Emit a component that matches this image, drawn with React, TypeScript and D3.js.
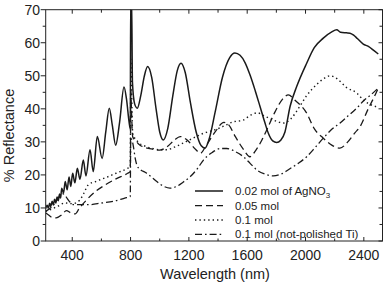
import React from "react";
import * as d3 from "d3";

// ---- data (wavelength nm, % reflectance) ----
const solid002: [number, number][] = [
  [218, 9.8], [228, 10.8], [236, 9.9], [245, 11.4], [253, 10.4], [262, 12], [270, 10.9],
  [279, 12.6], [287, 11.5], [296, 13.3], [304, 12.2], [313, 14.2], [320, 13], [328, 16],
  [340, 14.5], [352, 18], [365, 15.5], [378, 19.4], [390, 16.5], [403, 20.5], [418, 17.6],
  [435, 22], [453, 18.7], [476, 24.5], [494, 19.7], [522, 27.6], [544, 21], [572, 31.6],
  [605, 25], [630, 33], [654, 40.2], [675, 35], [698, 29], [725, 36], [755, 46.6],
  [772, 43], [790, 36], [798, 34], [801, 74], [807, 74], [813, 48], [828, 41.5],
  [846, 40.2], [870, 44], [895, 50], [917, 52.8], [945, 49.5], [975, 40], [1000, 33],
  [1025, 30.6], [1055, 34], [1090, 44], [1120, 51.5], [1146, 53.8], [1175, 51],
  [1210, 42], [1250, 33], [1285, 28.8], [1311, 28.1], [1340, 31], [1380, 39],
  [1430, 49.5], [1480, 55.5], [1516, 56.9], [1551, 56.2], [1585, 54], [1619, 50.3],
  [1655, 45.5], [1688, 40.7], [1720, 36], [1745, 32.6], [1775, 30.3], [1802, 29.8],
  [1830, 30.5], [1859, 33], [1894, 40.7], [1940, 46.8], [2008, 53.8], [2060, 58.5],
  [2122, 61.4], [2180, 63.3], [2214, 63.9], [2240, 63.2], [2280, 63], [2305, 62.9],
  [2330, 62.3], [2355, 61.3], [2396, 59.6], [2431, 58.9], [2470, 57.6], [2499, 56.6],
];

const dashed005: [number, number][] = [
  [218, 8.5], [240, 7.8], [260, 7.2], [290, 7], [330, 8], [360, 9.2], [390, 8.5],
  [420, 8.2], [450, 10], [500, 12.5], [560, 15], [620, 16.8], [700, 18.8], [780, 20.5],
  [798, 21], [802, 46], [806, 40], [815, 31.5], [830, 30.6], [865, 29], [900, 28.3],
  [950, 27.8], [1000, 27.5], [1050, 28.5], [1100, 30.5], [1140, 31.6], [1190, 30.5],
  [1240, 28], [1280, 26.6], [1320, 29], [1380, 33], [1440, 35.9], [1470, 35.3],
  [1520, 31.5], [1573, 27.8], [1619, 25.5], [1660, 27.5], [1700, 30.5], [1734, 33.6],
  [1790, 39], [1840, 42.8], [1882, 44.2], [1930, 42.5], [2008, 38.7], [2060, 34],
  [2122, 31.1], [2180, 29], [2236, 28.1], [2290, 30], [2340, 32.8], [2374, 34.6],
  [2430, 40], [2470, 43.5], [2499, 46.3],
];

const dotted010: [number, number][] = [
  [218, 9], [250, 9.5], [300, 10.5], [350, 11.5], [400, 11.3], [450, 12.3], [480, 14.5],
  [510, 17], [560, 18], [620, 19], [700, 20.5], [780, 22], [798, 22.5], [802, 55],
  [806, 48], [815, 32.5], [850, 30], [900, 28.7], [950, 28], [1000, 27.6], [1050, 27.6],
  [1100, 28.4], [1150, 29.4], [1200, 30.5], [1250, 31.6], [1300, 32.6], [1346, 33.2],
  [1400, 34], [1450, 35], [1500, 36], [1573, 36.6], [1620, 38], [1670, 38.8],
  [1720, 37.8], [1780, 36.6], [1850, 35.7], [1900, 37], [1950, 40], [2008, 44],
  [2080, 47.5], [2130, 49.3], [2168, 50], [2220, 49], [2280, 46.5], [2351, 44.8],
  [2400, 42.5], [2460, 41], [2499, 40.5],
];

const dashdot010np: [number, number][] = [
  [218, 9], [240, 9.6], [260, 10.3], [290, 12], [315, 13.6], [335, 14.3], [355, 13.5],
  [380, 12], [410, 11], [460, 11], [520, 11], [600, 11.5], [680, 12], [760, 13],
  [798, 13.5], [801, 31], [810, 30.5], [820, 28.5], [832, 25], [845, 22.8], [870, 21.5],
  [900, 20.8], [940, 19.5], [980, 18], [1030, 16.5], [1070, 16], [1115, 16.5],
  [1160, 17.8], [1210, 19.5], [1260, 22], [1300, 24.5], [1360, 26.8], [1420, 28],
  [1460, 28], [1520, 27], [1574, 25.5], [1620, 23.5], [1666, 21.5], [1720, 20.3],
  [1779, 19.7], [1830, 20.2], [1890, 21.8], [1950, 23.5], [2008, 25.5], [2070, 28.5],
  [2130, 31.5], [2180, 33.8], [2237, 35.7], [2290, 37.8], [2351, 40.2], [2400, 42.5],
  [2450, 44.3], [2499, 46.3],
];

const xMajorTicks = [400, 800, 1200, 1600, 2000, 2400];
const xMinorTicks = [600, 1000, 1400, 1800, 2200];
const yMajorTicks = [0, 10, 20, 30, 40, 50, 60, 70];
const yMinorTicks = [5, 15, 25, 35, 45, 55, 65];

const legendLabels = ["0.02 mol of AgNO", "0.05 mol", "0.1 mol", "0.1 mol (not-polished Ti)"];

const W = 391;
const H = 287;
const L = 45.7, R = 382.5, T = 9.7, B = 241;

const FONT = "'Liberation Sans', Arial, sans-serif";
const INK = "#1a1a1a";

export default function App() {
  const x = d3.scaleLinear().domain([218, 2528]).range([L, R]);
  const y = d3.scaleLinear().domain([0, 70]).range([B, T]);
  const line = d3
    .line<[number, number]>()
    .x((d) => x(d[0]))
    .y((d) => y(d[1]))
    .curve(d3.curveMonotoneX);

  const series = [
    { data: solid002, dash: "", w: 1.5 },
    { data: dashed005, dash: "7,4", w: 1.3 },
    { data: dotted010, dash: "1.4,3", w: 1.4 },
    { data: dashdot010np, dash: "7,3,1.6,3", w: 1.3 },
  ];

  const legY = [191, 205.7, 220, 234.3];

  return (
    <svg
      width={W}
      height={H}
      style={{ position: "absolute", left: 0, top: 0, background: "#fff" }}
      fontFamily={FONT}
    >
      <defs>
        <clipPath id="plot">
          <rect x={L} y={T} width={R - L} height={B - T} />
        </clipPath>
      </defs>
      <rect x={0} y={0} width={W} height={H} fill="#fff" />

      <g clipPath="url(#plot)">
        {series.map((s, i) => (
          <path
            key={i}
            d={line(s.data) || ""}
            fill="none"
            stroke={INK}
            strokeWidth={s.w}
            strokeDasharray={s.dash || undefined}
            strokeLinejoin="round"
          />
        ))}
      </g>

      {/* frame */}
      <rect x={L} y={T} width={R - L} height={B - T} fill="none" stroke="#222" strokeWidth={1} />

      {/* x ticks bottom (inward) and top (inward) */}
      {xMajorTicks.map((t) => (
        <g key={"xM" + t}>
          <line x1={x(t)} x2={x(t)} y1={B} y2={B - 4} stroke="#222" />
          <line x1={x(t)} x2={x(t)} y1={T} y2={T + 4} stroke="#222" />
          <text x={x(t)} y={260} textAnchor="middle" fontSize={14} fill="#222">
            {t}
          </text>
        </g>
      ))}
      {xMinorTicks.map((t) => (
        <g key={"xm" + t}>
          <line x1={x(t)} x2={x(t)} y1={B} y2={B - 2.5} stroke="#222" />
          <line x1={x(t)} x2={x(t)} y1={T} y2={T + 3} stroke="#222" />
        </g>
      ))}

      {/* y ticks left (outward) and right (inward) */}
      {yMajorTicks.map((t) => (
        <g key={"yM" + t}>
          <line x1={L} x2={L - 5} y1={y(t)} y2={y(t)} stroke="#222" />
          <line x1={R} x2={R - 4} y1={y(t)} y2={y(t)} stroke="#222" />
          <text x={40} y={y(t)} dy="0.36em" textAnchor="end" fontSize={14} fill="#222">
            {t}
          </text>
        </g>
      ))}
      {yMinorTicks.map((t) => (
        <g key={"ym" + t}>
          <line x1={L} x2={L - 3} y1={y(t)} y2={y(t)} stroke="#222" />
          <line x1={R} x2={R - 3} y1={y(t)} y2={y(t)} stroke="#222" />
        </g>
      ))}

      {/* axis titles */}
      <text x={215} y={278.5} textAnchor="middle" fontSize={14.5} fill="#222">
        Wavelength (nm)
      </text>
      <text
        transform={`translate(13.5, 135.5) rotate(-90)`}
        textAnchor="middle"
        fontSize={14.5}
        fill="#222"
      >
        % Reflectance
      </text>

      {/* legend */}
      {series.map((s, i) => (
        <g key={"leg" + i}>
          <line
            x1={195}
            x2={223}
            y1={legY[i]}
            y2={legY[i]}
            stroke={INK}
            strokeWidth={s.w}
            strokeDasharray={s.dash || undefined}
          />
          <text x={235} y={legY[i]} dy="0.36em" fontSize={11.5} fill="#222">
            {legendLabels[i]}
            {i === 0 ? (
              <tspan fontSize={8} dy="3">
                3
              </tspan>
            ) : null}
          </text>
        </g>
      ))}
    </svg>
  );
}
